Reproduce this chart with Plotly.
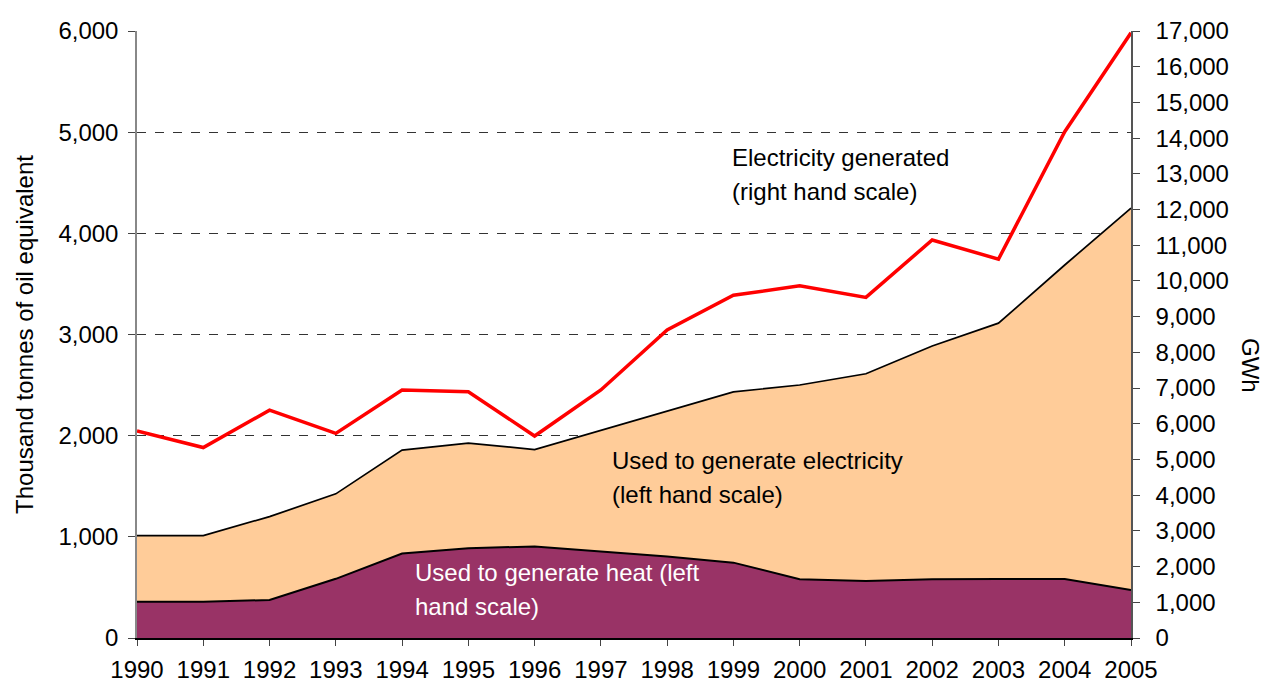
import plotly.graph_objects as go

years = list(range(1990, 2006))
heat = [358, 358, 376, 585, 835, 887, 905, 855, 805, 745, 580, 563, 580, 583, 583, 474]
total_fuel = [1012, 1012, 1200, 1425, 1858, 1926, 1863, 2052, 2240, 2432, 2501, 2612, 2886, 3112, 3687, 4250]
electricity_fuel = [t - h for t, h in zip(total_fuel, heat)]
electricity_gwh = [5800, 5335, 6380, 5730, 6947, 6895, 5657, 6947, 8627, 9600, 9862, 9540, 11148, 10610, 14180, 16950]

left_ticks = list(range(0, 6001, 1000))
right_ticks = list(range(0, 17001, 1000))

FONT = "Liberation Sans, Arial, sans-serif"
FS = 24

fig = go.Figure()
fig.add_trace(go.Scatter(
    x=years, y=heat, stackgroup="fuel", mode="lines",
    line=dict(color="black", width=2), fillcolor="#993366",
    name="Used to generate heat"))
fig.add_trace(go.Scatter(
    x=years, y=electricity_fuel, stackgroup="fuel", mode="lines",
    line=dict(color="black", width=1.7), fillcolor="#FFCC99",
    name="Used to generate electricity"))
fig.add_trace(go.Scatter(
    x=years, y=electricity_gwh, mode="lines", yaxis="y2",
    line=dict(color="#FF0000", width=3.5), name="Electricity generated"))

fig.update_layout(
    width=1267, height=684,
    margin=dict(l=137, r=136, t=31, b=46, autoexpand=False),
    paper_bgcolor="white", plot_bgcolor="white",
    showlegend=False,
    font=dict(family=FONT, size=FS, color="black"),
    xaxis=dict(
        range=[1990, 2005], tickvals=years, ticktext=[str(y) for y in years],
        showgrid=False, zeroline=False, showline=True, linecolor="black", linewidth=2,
        ticks="outside", ticklen=6, tickcolor="#444", tickfont=dict(size=FS),
        ticklabelstandoff=3, automargin=False,
    ),
    yaxis=dict(
        range=[0, 6000], tickvals=left_ticks, tickformat=",d",
        showgrid=True, gridcolor="#333", griddash="dash", gridwidth=1,
        zeroline=False, showline=True, linecolor="#888", linewidth=1.5,
        ticks="outside", ticklen=7, tickcolor="#444", ticklabelstandoff=5,
        tickfont=dict(size=FS), automargin=False,
        title=dict(text="Thousand tonnes of oil equivalent", standoff=18, font=dict(size=FS)),
    ),
    yaxis2=dict(
        range=[0, 17000], tickvals=right_ticks, tickformat=",d",
        overlaying="y", side="right", anchor="x",
        showgrid=False, zeroline=False, showline=True, linecolor="#555", linewidth=1.5,
        ticks="outside", ticklen=7, tickcolor="#444", ticklabelstandoff=11,
        tickfont=dict(size=FS), automargin=False,
    ),
)

def label(x, y, text, color="black"):
    fig.add_annotation(x=x, y=y, xref="x", yref="y", text=text, showarrow=False,
                       xanchor="left", yanchor="middle",
                       font=dict(family=FONT, size=FS, color=color))

label(1998.95, 4745, "Electricity generated")
label(1998.95, 4409, "(right hand scale)")
label(1997.14, 1759, "Used to generate electricity")
label(1997.14, 1423, "(left hand scale)")
label(1994.16, 652, "Used to generate heat (left", color="white")
label(1994.16, 316, "hand scale)", color="white")

fig.add_annotation(x=(1250 - 137) / (1131 - 137), y=(638 - 365) / (638 - 31),
                   xref="paper", yref="paper", text="GWh", showarrow=False,
                   xanchor="center", yanchor="middle",
                   textangle=90, font=dict(family=FONT, size=FS, color="black"))

fig.write_html("out.html", config={"displayModeBar": False},
               post_script="document.body.style.margin='0';document.body.style.overflow='hidden';")
